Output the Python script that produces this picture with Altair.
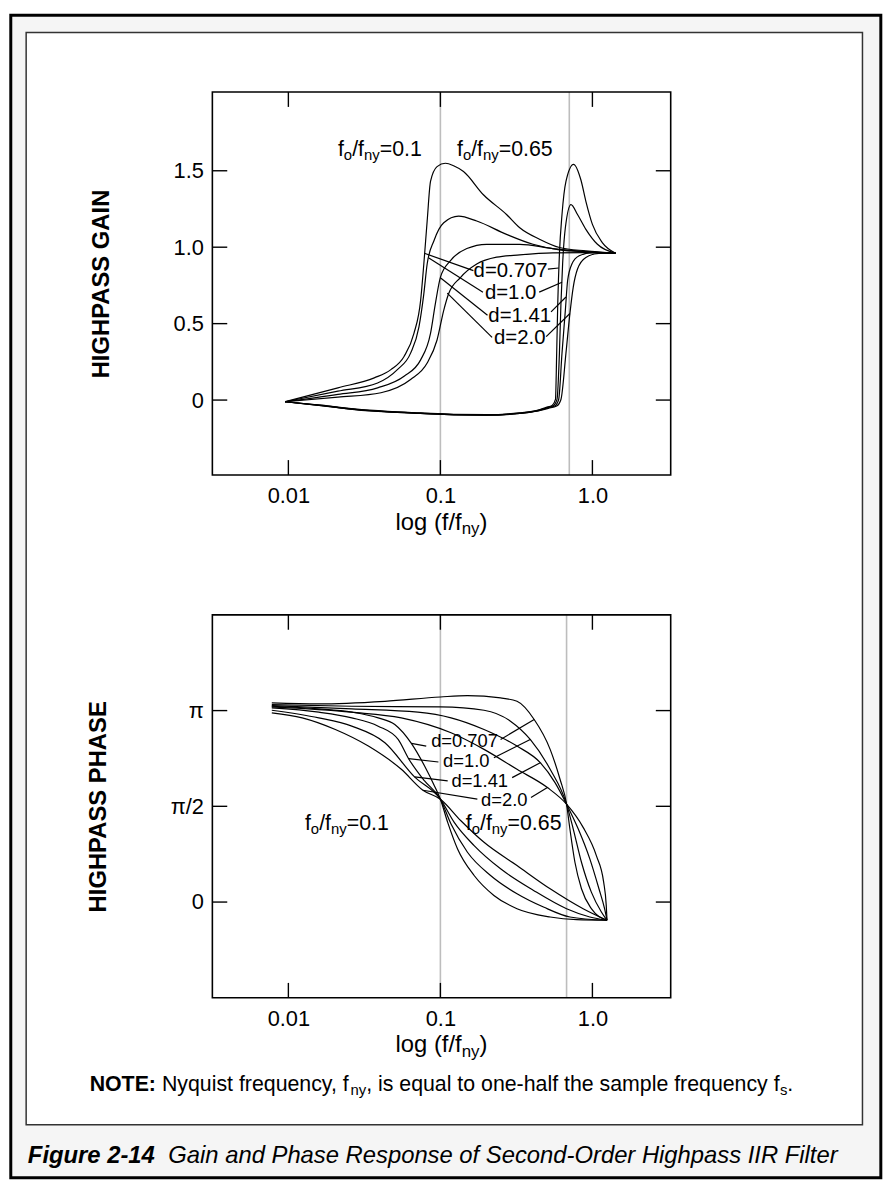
import altair as alt
import pandas as pd

FONT = "Liberation Sans"

# ---------------- axes ----------------
X_DOMAIN = [-2.5, 0.515]            # log10(f/fny)
X_TICKS = [-2, -1, 0]
X_LABELS = ["0.01", "0.1", "1.0"]
GAIN_DOMAIN = [-0.49, 2.015]
GAIN_TICKS = [0, 0.5, 1.0, 1.5]
GAIN_LABELS = ["0", "0.5", "1.0", "1.5"]
PHASE_DOMAIN = [-1.5708, 4.7124]    # radians
PHASE_TICKS = [0, 1.5708, 3.1416]
PHASE_LABELS = ["0", "π/2", "π"]

# ---------------- gain curves (x = log10 f/fny, y = gain) ----------------
G01_0707_X = [-2.022, -1.674, -1.435, -1.326, -1.239, -1.174, -1.130, -1.109, -1.087, -1.065, -1.022, -0.967, -0.913, -0.848, -0.717, -0.565, -0.478, -0.348, -0.217, -0.043, 0.152]
G01_0707_Y = [-0.011, 0.080, 0.145, 0.199, 0.285, 0.436, 0.652, 0.890, 1.171, 1.430, 1.527, 1.549, 1.533, 1.495, 1.343, 1.214, 1.127, 1.052, 0.998, 0.976, 0.961]
G01_100_X = [-2.022, -1.674, -1.413, -1.283, -1.196, -1.141, -1.109, -1.087, -1.043, -0.978, -0.880, -0.761, -0.565, -0.391, -0.217, -0.043, 0.152]
G01_100_Y = [-0.011, 0.058, 0.112, 0.199, 0.307, 0.479, 0.695, 0.890, 1.041, 1.160, 1.203, 1.171, 1.084, 1.019, 0.983, 0.970, 0.961]
G01_141_X = [-2.022, -1.674, -1.413, -1.239, -1.130, -1.065, -1.033, -1.000, -0.935, -0.826, -0.696, -0.478, -0.261, -0.043, 0.152]
G01_141_Y = [-0.011, 0.037, 0.080, 0.156, 0.263, 0.436, 0.631, 0.803, 0.911, 0.991, 1.019, 1.019, 0.991, 0.972, 0.961]
G01_200_X = [-2.022, -1.674, -1.391, -1.196, -1.087, -1.022, -0.978, -0.946, -0.870, -0.761, -0.630, -0.478, -0.261, -0.043, 0.152]
G01_200_Y = [-0.011, 0.019, 0.048, 0.134, 0.242, 0.393, 0.587, 0.695, 0.800, 0.890, 0.935, 0.950, 0.963, 0.965, 0.961]

G65_0707_X = [-2.022, -1.783, -1.565, -1.348, -1.130, -0.913, -0.696, -0.478, -0.370, -0.304, -0.265, -0.243, -0.235, -0.228, -0.217, -0.200, -0.174, -0.124, -0.076, -0.043, 0.000, 0.065, 0.152]
G65_0707_Y = [-0.011, -0.033, -0.058, -0.074, -0.084, -0.093, -0.095, -0.084, -0.069, -0.048, -0.035, 0.004, 0.307, 0.631, 0.955, 1.214, 1.430, 1.542, 1.441, 1.300, 1.149, 1.030, 0.961]
G65_100_X = [-2.022, -1.783, -1.565, -1.348, -1.130, -0.913, -0.696, -0.478, -0.370, -0.300, -0.257, -0.233, -0.217, -0.207, -0.196, -0.178, -0.141, -0.098, -0.043, 0.033, 0.152]
G65_100_Y = [-0.011, -0.035, -0.060, -0.076, -0.086, -0.095, -0.097, -0.086, -0.071, -0.050, -0.037, 0.004, 0.307, 0.631, 0.890, 1.127, 1.279, 1.214, 1.117, 1.019, 0.961]
G65_141_X = [-2.022, -1.783, -1.565, -1.348, -1.130, -0.913, -0.696, -0.478, -0.370, -0.296, -0.248, -0.222, -0.200, -0.178, -0.163, -0.135, -0.087, 0.000, 0.152]
G65_141_Y = [-0.011, -0.036, -0.061, -0.077, -0.087, -0.096, -0.098, -0.087, -0.072, -0.052, -0.039, 0.004, 0.307, 0.587, 0.782, 0.890, 0.944, 0.965, 0.961]
G65_200_X = [-2.022, -1.783, -1.565, -1.348, -1.130, -0.913, -0.696, -0.478, -0.370, -0.290, -0.235, -0.207, -0.174, -0.148, -0.126, -0.098, -0.043, 0.043, 0.152]
G65_200_Y = [-0.011, -0.037, -0.062, -0.078, -0.088, -0.097, -0.099, -0.088, -0.073, -0.054, -0.039, 0.004, 0.307, 0.566, 0.739, 0.857, 0.933, 0.959, 0.961]

# ---------------- phase curves (x = log10 f/fny, y = radians) ----------------
P01_0707_X = [-2.109, -1.800, -1.583, -1.409, -1.300, -1.191, -1.104, -1.039, -1.000, -0.952, -0.887, -0.778, -0.648, -0.496, -0.278, -0.104, 0.096]
P01_0707_Y = [3.213, 3.169, 3.115, 3.022, 2.913, 2.603, 2.232, 1.906, 1.688, 1.307, 0.871, 0.436, 0.109, -0.109, -0.245, -0.289, -0.299]
P01_100_X = [-2.109, -1.800, -1.583, -1.409, -1.278, -1.209, -1.104, -1.000, -0.930, -0.822, -0.670, -0.496, -0.322, -0.148, 0.096]
P01_100_Y = [3.185, 3.115, 3.022, 2.886, 2.668, 2.352, 1.987, 1.688, 1.280, 0.817, 0.436, 0.136, -0.082, -0.245, -0.299]
P01_141_X = [-2.109, -1.800, -1.583, -1.365, -1.170, -1.000, -0.909, -0.778, -0.604, -0.387, -0.170, -0.017, 0.096]
P01_141_Y = [3.147, 3.022, 2.886, 2.614, 2.053, 1.688, 1.307, 0.926, 0.545, 0.191, -0.109, -0.245, -0.299]
P01_200_X = [-2.109, -1.909, -1.691, -1.474, -1.257, -1.115, -1.000, -0.865, -0.713, -0.496, -0.278, -0.061, 0.096]
P01_200_Y = [3.104, 3.022, 2.831, 2.559, 2.178, 1.835, 1.688, 1.334, 0.980, 0.599, 0.218, -0.109, -0.299]

P65_0707_X = [-2.109, -1.800, -1.365, -1.000, -0.822, -0.604, -0.496, -0.383, -0.278, -0.213, -0.170, -0.148, -0.115, -0.072, -0.007, 0.096]
P65_0707_Y = [3.267, 3.251, 3.294, 3.365, 3.387, 3.349, 3.294, 2.995, 2.505, 2.015, 1.606, 1.198, 0.653, 0.218, -0.109, -0.299]
P65_100_X = [-2.109, -1.583, -1.000, -0.713, -0.539, -0.409, -0.278, -0.170, -0.126, -0.072, -0.007, 0.059, 0.096]
P65_100_Y = [3.240, 3.213, 3.202, 3.147, 2.968, 2.668, 2.178, 1.606, 1.198, 0.653, 0.163, -0.163, -0.299]
P65_141_X = [-2.109, -1.583, -1.148, -0.930, -0.713, -0.496, -0.343, -0.246, -0.170, -0.093, -0.017, 0.043, 0.080, 0.096]
P65_141_Y = [3.223, 3.169, 3.115, 3.022, 2.831, 2.559, 2.287, 1.960, 1.606, 1.198, 0.708, 0.218, -0.109, -0.299]
P65_200_X = [-2.109, -1.583, -1.257, -0.930, -0.713, -0.496, -0.296, -0.170, -0.061, 0.026, 0.074, 0.091, 0.096]
P65_200_Y = [3.202, 3.115, 3.022, 2.777, 2.505, 2.178, 1.879, 1.606, 1.225, 0.762, 0.327, -0.054, -0.299]

# ---------------- reference lines / annotations ----------------
GAIN_GREY = [-1.0, -0.152]
PHASE_GREY = [-1.0, -0.170]

D_LABELS = ["d=0.707", "d=1.0", "d=1.41", "d=2.0"]
GAIN_DLAB_X = [-0.538, -0.538, -0.478, -0.478]
GAIN_DLAB_Y = [0.847, 0.700, 0.549, 0.404]
PHASE_DLAB_X = [-0.841, -0.830, -0.741, -0.580]
PHASE_DLAB_Y = [2.635, 2.314, 1.990, 1.672]

GAIN_LEAD_X1 = [-1.105, -1.076, -1.000, -0.955, -0.293, -0.350, -0.272, -0.304]
GAIN_LEAD_Y1 = [0.960, 0.930, 0.800, 0.700, 0.857, 0.706, 0.577, 0.415]
GAIN_LEAD_X2 = [-0.783, -0.720, -0.690, -0.660, -0.222, -0.200, -0.174, -0.148]
GAIN_LEAD_Y2 = [0.847, 0.706, 0.555, 0.410, 0.864, 0.771, 0.674, 0.566]

PHASE_LEAD_X1 = [-1.191, -1.209, -1.170, -1.115, -0.604, -0.648, -0.528, -0.404]
PHASE_LEAD_Y1 = [2.603, 2.352, 2.053, 1.835, 2.668, 2.369, 2.042, 1.715]
PHASE_LEAD_X2 = [-1.093, -1.013, -0.952, -0.757, -0.383, -0.409, -0.343, -0.296]
PHASE_LEAD_Y2 = [2.559, 2.298, 1.987, 1.688, 2.995, 2.668, 2.287, 1.879]

FO_TAILS = ["=0.1", "=0.65"]
GAIN_FO_X = [-1.674, -0.891]
GAIN_FO_Y = [1.596, 1.596]
PHASE_FO_X = [-1.891, -0.833]
PHASE_FO_Y = [1.187, 1.187]

W, H = 462, 386
TICK = 15
DUMMY = pd.DataFrame({"a": [0]})


def curve_frame(curves):
    rows = []
    for name, xs, ys in curves:
        for i, (x, y) in enumerate(zip(xs, ys)):
            rows.append({"curve": name, "i": i, "x": x, "y": y})
    return pd.DataFrame(rows)


def label_expr(values, labels):
    expr = "'" + labels[-1] + "'"
    for v, lab in reversed(list(zip(values[:-1], labels[:-1]))):
        nxt = values[values.index(v) + 1]
        expr = f"datum.value < {(v + nxt) / 2} ? '{lab}' : ({expr})"
    return expr


def vtext(txt, x, y, size, weight="normal", style="normal", dy=0):
    return alt.Chart(DUMMY).mark_text(
        align="left", baseline="alphabetic", font=FONT, fontSize=size,
        fontWeight=weight, fontStyle=style, dy=dy, color="black"
    ).encode(x=alt.value(x), y=alt.value(y), text=alt.value(txt))


def panel(curves, grey, ydom, yticks, ylabels, ytitle,
          dlx, dly, lx1, ly1, lx2, ly2, fox, foy, dsize, extra=()):
    xs = alt.Scale(domain=X_DOMAIN, nice=False, zero=False)
    ys = alt.Scale(domain=ydom, nice=False, zero=False)
    xaxis = alt.Axis(values=X_TICKS, labelExpr=label_expr(X_TICKS, X_LABELS),
                     ticks=False, tickSize=0, domain=False, grid=False,
                     labelFont=FONT, labelFontSize=22, labelColor="black",
                     labelPadding=11, labelFlush=False, zindex=1)
    yaxis = alt.Axis(values=yticks, labelExpr=label_expr(yticks, ylabels),
                     ticks=False, tickSize=0, domain=False, grid=False,
                     labelFont=FONT, labelFontSize=22, labelColor="black",
                     labelPadding=9, zindex=1, titleFont=FONT, titleFontSize=24,
                     titleFontWeight="bold", titleColor="black", titlePadding=60)

    def X(f):
        return alt.X(f"{f}:Q", scale=xs, axis=xaxis, title=None)

    def Y(f):
        return alt.Y(f"{f}:Q", scale=ys, axis=yaxis, title=ytitle)

    cdf = curve_frame(curves)
    gdf = pd.DataFrame({"g": grey})
    xt = pd.DataFrame({"t": X_TICKS})
    yt = pd.DataFrame({"t": yticks})
    ldf = pd.DataFrame({"x1": lx1, "y1": ly1, "x2": lx2, "y2": ly2})
    ddf = pd.DataFrame({"x": dlx, "y": dly, "t": D_LABELS})
    fdf = pd.DataFrame({"x": fox, "y": foy, "tail": FO_TAILS})

    layers = list(extra[:2])
    layers.append(alt.Chart(gdf).mark_rule(color="#bdbdbd", strokeWidth=1.6).encode(x=X("g")))
    layers.append(alt.Chart(cdf).mark_line(color="black", strokeWidth=1.2, interpolate="monotone")
                  .encode(x=X("x"), y=Y("y"), detail="curve:N", order="i:Q"))
    layers.append(alt.Chart(DUMMY).mark_rect(fill="white", fillOpacity=0, stroke="black", strokeWidth=1.6)
                  .encode(x=alt.value(0), x2=alt.value(W), y=alt.value(0), y2=alt.value(H)))
    tick_mark = dict(color="black", strokeWidth=1.4)
    layers.append(alt.Chart(xt).mark_rule(**tick_mark).encode(x=X("t"), y=alt.value(H), y2=alt.value(H - TICK)))
    layers.append(alt.Chart(xt).mark_rule(**tick_mark).encode(x=X("t"), y=alt.value(0), y2=alt.value(TICK)))
    layers.append(alt.Chart(yt).mark_rule(**tick_mark).encode(y=Y("t"), x=alt.value(0), x2=alt.value(TICK)))
    layers.append(alt.Chart(yt).mark_rule(**tick_mark).encode(y=Y("t"), x=alt.value(W - TICK), x2=alt.value(W)))
    layers.append(alt.Chart(ldf).mark_rule(color="black", strokeWidth=1.2)
                  .encode(x=X("x1"), y=Y("y1"), x2="x2:Q", y2="y2:Q"))
    layers.append(alt.Chart(ddf).mark_text(font=FONT, fontSize=dsize, align="center", baseline="middle", color="black")
                  .encode(x=X("x"), y=Y("y"), text="t:N"))
    # f_o / f_ny = ... labels (main 21.5px, subscripts 15px)
    F, S = 21.5, 15
    pieces = [("f", 0.0, F, 0), ("o", 0.278 * F, S, 4), ("/f", 0.278 * F + 0.556 * S, F, 0),
              ("ny", 0.278 * F + 0.556 * S + 0.556 * F, S, 4)]
    for txt, dx, size, dy in pieces:
        layers.append(alt.Chart(fdf).mark_text(font=FONT, fontSize=size, align="left", baseline="alphabetic",
                                                dx=dx, dy=dy, color="black")
                      .encode(x=X("x"), y=Y("y"), text=alt.value(txt)))
    tail_dx = 0.278 * F + 0.556 * S + 0.556 * F + 1.056 * S
    layers.append(alt.Chart(fdf).mark_text(font=FONT, fontSize=F, align="left", baseline="alphabetic",
                                            dx=tail_dx, color="black")
                  .encode(x=X("x"), y=Y("y"), text="tail:N"))
    # x-axis title: log (f/f_ny)
    TF, TS = 24, 17
    tw = 2.779 * TF + 1.056 * TS + 0.333 * TF
    x0 = W / 2 - tw / 2
    ty = H + 55
    layers.append(vtext("log (f/f", x0, ty, TF))
    layers.append(vtext("ny", x0 + 2.779 * TF, ty, TS, dy=5))
    layers.append(vtext(")", x0 + 2.779 * TF + 1.056 * TS, ty, TF))
    layers.extend(extra[2:])
    return alt.layer(*layers).properties(width=W, height=H)


# page decoration (drawn in the top panel's coordinates)
outer = alt.Chart(DUMMY).mark_rect(fill="#f5f5f5", stroke="black", strokeWidth=3).encode(
    x=alt.value(-203.2), x2=alt.value(673.8), y=alt.value(-77.5), y2=alt.value(1094.5))
inner = alt.Chart(DUMMY).mark_rect(fill="white", stroke="#333333", strokeWidth=1.5).encode(
    x=alt.value(-187.7), x2=alt.value(655.3), y=alt.value(-60), y2=alt.value(1041))

NF, NS = 21.5, 15
nx = -123.7
ny_ = 1007
note_layers = [
    vtext("NOTE:", nx, ny_, NF, weight="bold"),
    vtext("Nyquist frequency, f", nx + 3.111 * NF + 0.278 * NF, ny_, NF),
    vtext("ny", nx + 3.111 * NF + 9.115 * NF, ny_, NS, dy=4),
    vtext(", is equal to one-half the sample frequency f", nx + 3.111 * NF + 9.115 * NF + 1.056 * NS, ny_, NF),
    vtext("s", nx + 3.111 * NF + 28.514 * NF + 1.056 * NS, ny_, NS, dy=4),
    vtext(".", nx + 3.111 * NF + 28.514 * NF + 1.556 * NS, ny_, NF),
    vtext("Figure 2-14", -186, 1080, 24, weight="bold", style="italic"),
    vtext("Gain and Phase Response of Second-Order Highpass IIR Filter", -44.4, 1080, 24, style="italic"),
]

gain_curves = [
    ("01_0707", G01_0707_X, G01_0707_Y), ("01_100", G01_100_X, G01_100_Y),
    ("01_141", G01_141_X, G01_141_Y), ("01_200", G01_200_X, G01_200_Y),
    ("65_0707", G65_0707_X, G65_0707_Y), ("65_100", G65_100_X, G65_100_Y),
    ("65_141", G65_141_X, G65_141_Y), ("65_200", G65_200_X, G65_200_Y),
]
phase_curves = [
    ("01_0707", P01_0707_X, P01_0707_Y), ("01_100", P01_100_X, P01_100_Y),
    ("01_141", P01_141_X, P01_141_Y), ("01_200", P01_200_X, P01_200_Y),
    ("65_0707", P65_0707_X, P65_0707_Y), ("65_100", P65_100_X, P65_100_Y),
    ("65_141", P65_141_X, P65_141_Y), ("65_200", P65_200_X, P65_200_Y),
]

top = panel(gain_curves, GAIN_GREY, GAIN_DOMAIN, GAIN_TICKS, GAIN_LABELS, "HIGHPASS GAIN",
            GAIN_DLAB_X, GAIN_DLAB_Y, GAIN_LEAD_X1, GAIN_LEAD_Y1, GAIN_LEAD_X2, GAIN_LEAD_Y2,
            GAIN_FO_X, GAIN_FO_Y, 20.5, extra=[outer, inner] + note_layers)
bottom = panel(phase_curves, PHASE_GREY, PHASE_DOMAIN, PHASE_TICKS, PHASE_LABELS, "HIGHPASS PHASE",
               PHASE_DLAB_X, PHASE_DLAB_Y, PHASE_LEAD_X1, PHASE_LEAD_Y1, PHASE_LEAD_X2, PHASE_LEAD_Y2,
               PHASE_FO_X, PHASE_FO_Y, 18.5)

chart = (
    alt.vconcat(top, bottom, spacing=141, bounds="flush")
    .properties(padding=0, background="white")
    .configure_view(stroke="transparent")
)

chart.save("out.html", embed_options={"renderer": "svg", "actions": False})
